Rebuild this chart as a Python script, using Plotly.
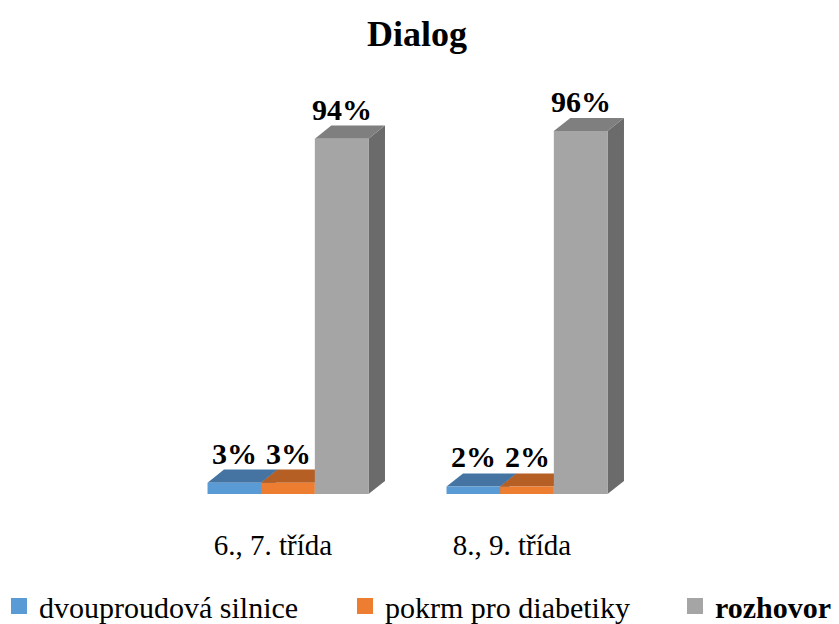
import plotly.graph_objects as go

# ---- data ----
categories = ["6., 7. třída", "8., 9. třída"]
series_names = ["dvouproudová silnice", "pokrm pro diabetiky", "rozhovor"]
values_dvouproudova = [3, 2]
values_pokrm = [3, 2]
values_rozhovor = [94, 96]
title_text = "Dialog"

series_values = [values_dvouproudova, values_pokrm, values_rozhovor]
front_colors = ["#5B9BD5", "#ED7D31", "#A5A5A5"]
top_colors = ["#4574A3", "#B55F24", "#7F7F7F"]
side_colors = ["#3E6893", "#A3551F", "#6B6B6B"]
legend_labels = ["dvouproudová silnice", "pokrm pro diabetiky", "<b>rozhovor</b>"]
legend_ids = ["legend", "legend2", "legend3"]

# geometry (in axis units)
bar_w = 0.2245
group_off = -0.274
dx = 0.069
dy = 3.45

SERIF = "Liberation Serif, Times New Roman, serif"

# page has an 8px body margin; figure is sized to fill the rest of the window
W, H = 831, 616
ML, MR, MT, MB = 12, 20, 52, 130

fig = go.Figure()

for k in range(3):
    for i, cat in enumerate(categories):
        v = series_values[k][i]
        L = i + group_off + k * bar_w
        R = L + bar_w
        # side face
        fig.add_trace(go.Scatter(
            x=[R, R + dx, R + dx, R, R], y=[0, dy, v + dy, v, 0],
            fill="toself", fillcolor=side_colors[k], mode="lines",
            line=dict(width=0), hoverinfo="skip", showlegend=False))
        # top face
        fig.add_trace(go.Scatter(
            x=[L, R, R + dx, L + dx, L], y=[v, v, v + dy, v + dy, v],
            fill="toself", fillcolor=top_colors[k], mode="lines",
            line=dict(width=0), hoverinfo="skip", showlegend=False))
        # front face
        fig.add_trace(go.Scatter(
            x=[L, R, R, L, L], y=[0, 0, v, v, 0],
            fill="toself", fillcolor=front_colors[k], mode="lines",
            line=dict(width=0), hoveron="fills",
            name=series_names[k], text=f"{cat}: {v}%", hoverinfo="text",
            showlegend=False))
        fig.add_annotation(
            x=(L + R) / 2, y=v + dy, text=f"<b>{v}%</b>", showarrow=False,
            yanchor="bottom", xanchor="center", yshift=-2,
            font=dict(family=SERIF, size=30, color="black"))

# legend entries (one legend per entry, so each can be placed like the original)
for k in range(3):
    fig.add_trace(go.Scatter(
        x=[None], y=[None], mode="markers",
        marker=dict(symbol="square", size=16, color=front_colors[k]),
        name=legend_labels[k], showlegend=True, legend=legend_ids[k]))

legend_common = dict(orientation="h", xref="container", yref="container",
                     xanchor="left", y=1 - 598 / H, yanchor="middle",
                     itemsizing="trace", bgcolor="rgba(0,0,0,0)",
                     font=dict(family=SERIF, size=30, color="black"))

fig.update_layout(
    width=W, height=H,
    margin=dict(l=ML, r=MR, t=MT, b=MB),
    paper_bgcolor="white", plot_bgcolor="white",
    title=dict(text=f"<b>{title_text}</b>", x=409 / W, xanchor="center",
               y=1 - 25 / H, yanchor="middle", yref="container",
               font=dict(family=SERIF, size=36, color="black")),
    legend=dict(x=0, indentation=-9, **legend_common),
    legend2=dict(x=337 / W, **legend_common),
    legend3=dict(x=667 / W, **legend_common),
    showlegend=True,
)

fig.update_xaxes(range=[-1.0586, 2.2845], tickvals=[0, 1], ticktext=categories,
                 showgrid=False, zeroline=False, showline=False, ticks="",
                 ticklabelstandoff=31,
                 tickfont=dict(family=SERIF, size=29, color="black"),
                 fixedrange=True)
fig.update_yaxes(range=[0, 114.8], visible=False, fixedrange=True)

fig.write_html("out.html")
